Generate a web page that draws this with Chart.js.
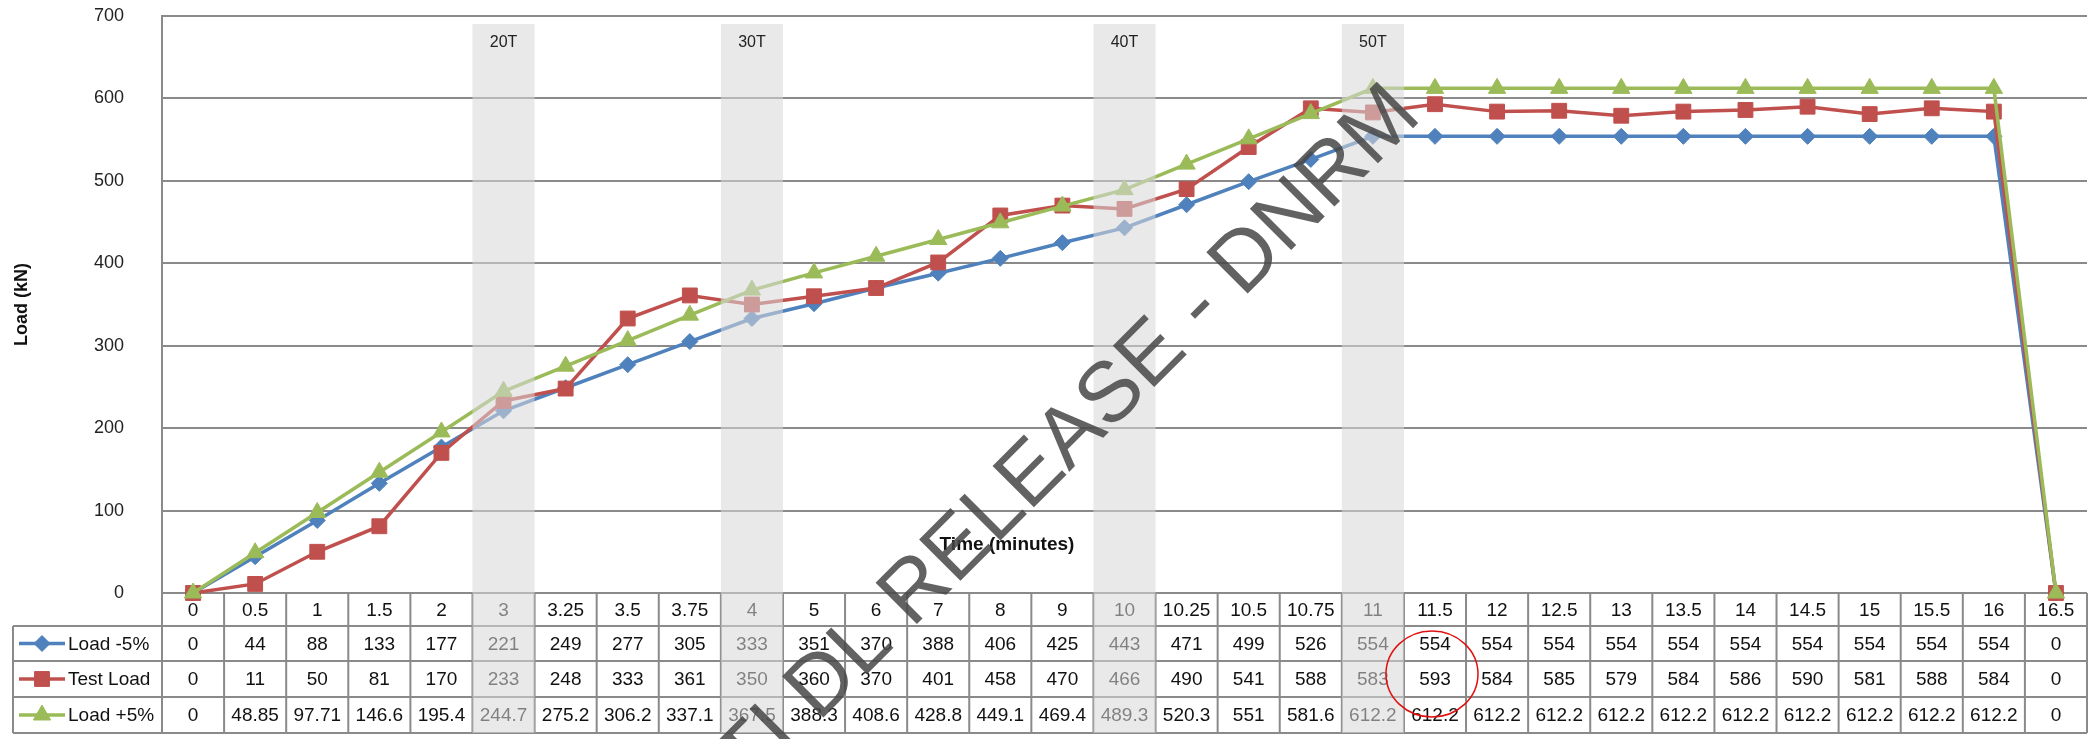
<!DOCTYPE html>
<html><head><meta charset="utf-8">
<script src="https://cdn.jsdelivr.net/npm/chart.js@4.4.1/dist/chart.umd.min.js"></script>
<style>html,body{margin:0;padding:0;background:#fff;}#wrap{width:2100px;height:739px;}</style>
</head><body><div id="wrap"><canvas id="c" width="2100" height="739"></canvas></div>
<script>
const categories = ['0','0.5','1','1.5','2','3','3.25','3.5','3.75','4','5','6','7','8','9','10','10.25','10.5','10.75','11','11.5','12','12.5','13','13.5','14','14.5','15','15.5','16','16.5'];
const loadMinus5 = [0,44,88,133,177,221,249,277,305,333,351,370,388,406,425,443,471,499,526,554,554,554,554,554,554,554,554,554,554,554,0];
const testLoad = [0,11,50,81,170,233,248,333,361,350,360,370,401,458,470,466,490,541,588,583,593,584,585,579,584,586,590,581,588,584,0];
const loadPlus5 = [0,48.85,97.71,146.6,195.4,244.7,275.2,306.2,337.1,367.5,388.3,408.6,428.8,449.1,469.4,489.3,520.3,551,581.6,612.2,612.2,612.2,612.2,612.2,612.2,612.2,612.2,612.2,612.2,612.2,0];
const seriesNames = ['Load -5%','Test Load','Load +5%'];
const yTickValues = [0,100,200,300,400,500,600,700];
const bandCategories = ['3','4','10','11'];
const bandLabels = ['20T','30T','40T','50T'];
const xTitle = 'Time (minutes)';
const yTitle = 'Load (kN)';
const watermarkText = 'RTI DL RELEASE - DNRM';
const circledCategory = '11.5';

const FONT = "'Liberation Sans', Arial, sans-serif";
const COLORS = ['#4F81BD','#C0504D','#9BBB59'];
const STYLES = ['rectRot','rect','triangle'];
const RADII = [8,10.5,10];
const GRID = '#8a8a8a';

function marker(ctx, style, x, y, r, color){
  ctx.save(); ctx.fillStyle=color; ctx.strokeStyle=color; ctx.lineWidth=1;
  ctx.beginPath();
  if(style==='rectRot'){ ctx.moveTo(x-r,y); ctx.lineTo(x,y-r); ctx.lineTo(x+r,y); ctx.lineTo(x,y+r); ctx.closePath(); }
  else if(style==='rect'){ const s=Math.SQRT1_2*r; ctx.rect(x-s,y-s,2*s,2*s); }
  else { const w=r*Math.sqrt(3); ctx.moveTo(x,y-r); ctx.lineTo(x+w/2,y+r/2); ctx.lineTo(x-w/2,y+r/2); ctx.closePath(); }
  ctx.fill(); ctx.stroke(); ctx.restore();
}

const tablePlugin = {
  id:'tbl',
  afterDraw(chart){
    const ctx=chart.ctx, xs=chart.scales.x, ys=chart.scales.y, a=chart.chartArea;
    const colW = xs.getPixelForValue(1)-xs.getPixelForValue(0);
    const y0 = ys.getPixelForValue(0);
    const rows=[y0, y0+33, y0+68, y0+104, y0+140];
    const legLeft=13;
    const series=[loadMinus5,testLoad,loadPlus5];
    ctx.save();
    ctx.strokeStyle=GRID; ctx.lineWidth=2;
    ctx.beginPath();
    for(let i=1;i<rows.length;i++){ ctx.moveTo(legLeft,rows[i]); ctx.lineTo(a.right,rows[i]); }
    for(let i=0;i<=categories.length;i++){ const x=a.left+i*colW; ctx.moveTo(x,y0); ctx.lineTo(x,rows[4]); }
    ctx.moveTo(legLeft,rows[1]); ctx.lineTo(legLeft,rows[4]);
    ctx.stroke();
    ctx.fillStyle='#111'; ctx.font='19px '+FONT; ctx.textAlign='center'; ctx.textBaseline='middle';
    categories.forEach((c,i)=>{ ctx.fillText(c, xs.getPixelForValue(i), (rows[0]+rows[1])/2+1); });
    series.forEach((s,k)=>{
      const cy=(rows[k+1]+rows[k+2])/2+1;
      s.forEach((v,i)=>{ ctx.fillText(String(v), xs.getPixelForValue(i), cy); });
    });
    // legend in table
    ctx.textAlign='left';
    seriesNames.forEach((n,k)=>{
      const cy=(rows[k+1]+rows[k+2])/2;
      ctx.strokeStyle=COLORS[k]; ctx.lineWidth=3.5; ctx.beginPath(); ctx.moveTo(19,cy); ctx.lineTo(65,cy); ctx.stroke();
      marker(ctx, STYLES[k], 42, cy, RADII[k], COLORS[k]);
      ctx.fillStyle='#111'; ctx.fillText(n, 68, cy+1);
    });
    // x title
    ctx.font='bold 19px '+FONT; ctx.textAlign='center';
    ctx.fillText(xTitle, 1007, 545);
    // bands
    bandCategories.forEach((b,j)=>{
      const i=categories.indexOf(b); const cx=xs.getPixelForValue(i);
      ctx.fillStyle='rgba(215,215,215,0.56)';
      ctx.fillRect(cx-colW/2, 24, colW, rows[4]-24);
      ctx.fillStyle='#222'; ctx.font='16px '+FONT; ctx.textAlign='center';
      ctx.fillText(bandLabels[j], cx, 43);
    });
    // watermark
    ctx.save();
    ctx.translate(1048,460); ctx.rotate(-45*Math.PI/180);
    ctx.font='85px '+FONT; ctx.fillStyle='rgba(70,70,70,0.85)'; ctx.textAlign='center'; ctx.textBaseline='middle';
    ctx.fillText(watermarkText,0,0);
    ctx.restore();
    // red circle
    const ci=categories.indexOf(circledCategory);
    ctx.strokeStyle='#e01010'; ctx.lineWidth=1.5;
    ctx.beginPath(); ctx.ellipse(xs.getPixelForValue(ci)-3, (rows[2]+rows[3])/2-5, 46, 43, 0, 0, Math.PI*2); ctx.stroke();
    ctx.restore();
  }
};

const mk=(label,data,k,order)=>({label,data,borderColor:COLORS[k],backgroundColor:COLORS[k],borderWidth:3.5,
  pointStyle:STYLES[k],pointRadius:RADII[k],pointBorderWidth:1,pointBackgroundColor:COLORS[k],pointBorderColor:COLORS[k],
  tension:0,clip:false,order});

new Chart(document.getElementById('c'),{
  type:'line',
  data:{labels:categories,datasets:[mk(seriesNames[0],loadMinus5,0,2),mk(seriesNames[1],testLoad,1,1),mk(seriesNames[2],loadPlus5,2,0)]},
  options:{
    responsive:false, devicePixelRatio:1, animation:false, events:[],
    layout:{padding:{top:16,right:13,bottom:146,left:0}},
    plugins:{legend:{display:false},tooltip:{enabled:false}},
    scales:{
      x:{type:'category',offset:true,ticks:{display:false},grid:{display:false,drawTicks:false},border:{display:false},
        afterFit:s=>{s.height=0;s.paddingLeft=0;s.paddingRight=0;}},
      y:{min:0,max:700,afterBuildTicks:s=>{s.ticks=yTickValues.map(v=>({value:v}));},
        ticks:{padding:38,color:'#222',font:{family:FONT,size:18}},
        grid:{color:GRID,lineWidth:2,drawTicks:false},
        border:{display:true,color:GRID,width:2},
        title:{display:true,text:yTitle,color:'#111',font:{family:FONT,size:18,weight:'bold'},padding:{top:11,bottom:0}},
        afterFit:s=>{s.width=162;s.paddingTop=0;s.paddingBottom=0;}}
    }
  },
  plugins:[tablePlugin]
});
</script></body></html>
